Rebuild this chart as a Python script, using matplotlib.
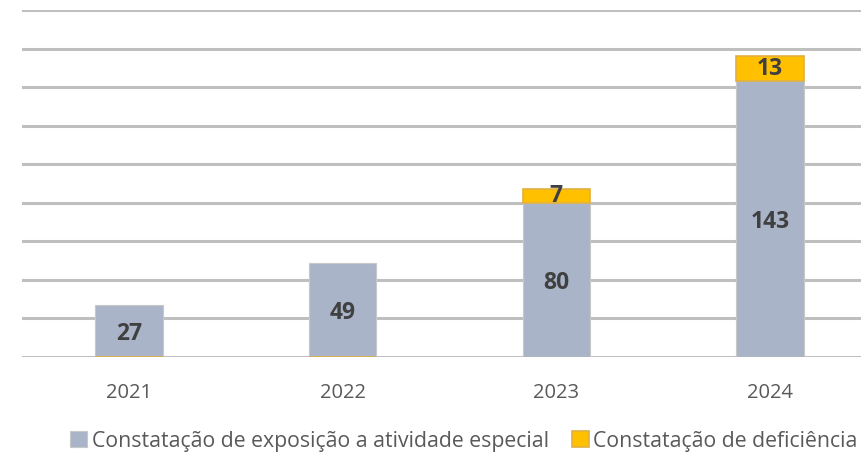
import matplotlib
matplotlib.use("Agg")
from matplotlib import pyplot as plt
import numpy as np

anos = ["2021", "2022", "2023", "2024"]
exposicao = [27, 49, 80, 143]
deficiencia = [0, 0, 7, 13]

cor_expo = "#A9B4C9"
cor_def = "#FFC000"

plt.rcParams['font.family'] = ['Open Sans', 'DejaVu Sans']

fig = plt.figure(figsize=(8.61, 4.55), dpi=100)
ax = fig.add_axes([22/861, 98/455, 855/861, 347/455])

x = np.arange(len(anos))
larg = 0.315
# valores nulos ficam na base (como no Excel)
base_def = [e if d > 0 else 0 for e, d in zip(exposicao, deficiencia)]
b1 = ax.bar(x, exposicao, larg, color=cor_expo, edgecolor="#C8C8C8", linewidth=0.8, zorder=3)
b2 = ax.bar(x, deficiencia, larg, bottom=base_def, color=cor_def,
            edgecolor="#E0B040", linewidth=1.2, zorder=4)

for i, v in enumerate(exposicao):
    ax.text(x[i], v / 2 - 1.5, str(v), ha="center", va="center", fontsize=16.5,
            fontweight="bold", color="#404040", zorder=5)
for i, v in enumerate(deficiencia):
    if v > 0:
        ax.text(x[i], exposicao[i] + v / 2, str(v), ha="center", va="center",
                fontsize=16.5, fontweight="bold", color="#404040", zorder=5)

ax.set_xlim(-0.5, 3.5)
ax.set_ylim(0, 180)
ax.set_yticks(np.arange(0, 181, 20))
ax.yaxis.grid(True, color="#BFBFBF", linewidth=2.2, zorder=0)
ax.tick_params(axis="y", left=False, labelleft=False)
ax.tick_params(axis="x", length=0, pad=19, labelsize=14.5, labelcolor="#595959")
ax.set_xticks(x)
ax.set_xticklabels(anos)
for s in ax.spines.values():
    s.set_visible(False)

fig.legend([b1, b2], ["Constatação de exposição a atividade especial", "Constatação de deficiência"],
           loc="center", bbox_to_anchor=(464/861, 1 - 441/455), ncol=2, frameon=False,
           fontsize=15.3, labelcolor="#595959", handlelength=0.8, handleheight=0.8,
           handletextpad=0.2, columnspacing=1.1, borderaxespad=0)

fig.savefig("out.png", dpi=100)
